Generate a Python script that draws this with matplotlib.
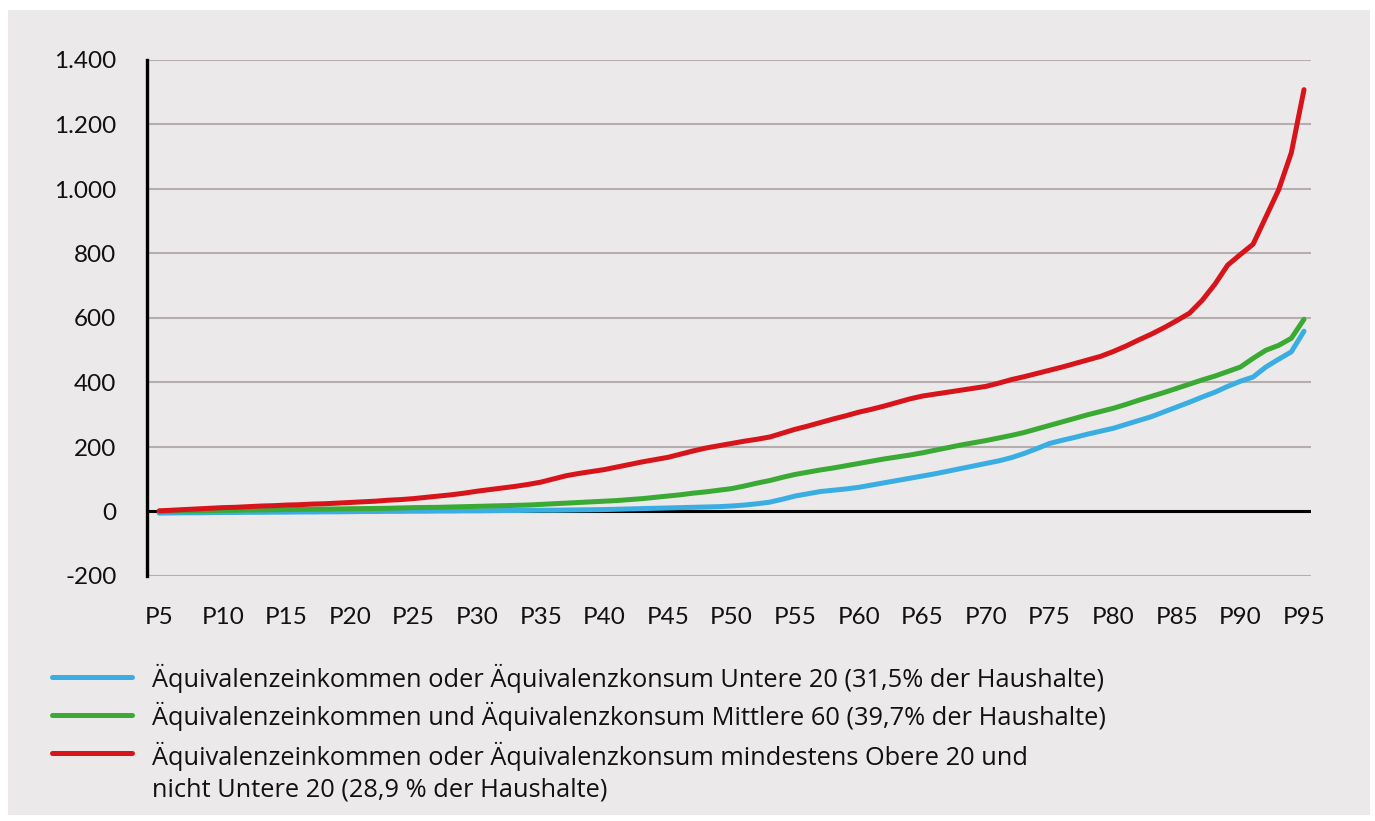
import matplotlib.pyplot as plt
from matplotlib.patches import Rectangle
from matplotlib.lines import Line2D

# Perzentile P5 .. P95
perzentile = list(range(5, 96))

# Untere 20 (blau)
untere = [-5, -4.5, -4, -4, -3.5, -3,
          -3, -2.5, -2.5, -2, -2,
          -1.5, -1.5, -1, -1, -0.5,
          0, 0, 0.5, 0.5, 1,
          1, 1.5, 1.5, 2, 2,
          2.5, 3, 3, 3.5, 4,
          4, 4.5, 5, 5.5, 6,
          7, 8, 9, 10, 11,
          12, 13, 14, 15, 17,
          20, 24, 29, 38, 48,
          55, 62, 66, 70, 75,
          82, 89, 96, 103, 110,
          117, 125, 133, 141, 149,
          157, 167, 180, 195, 211,
          221, 230, 240, 249, 258,
          270, 282, 294, 309, 324,
          339, 355, 370, 388, 404,
          417, 448, 472, 495, 559]

# Mittlere 60 (gruen)
mittlere = [1, 1.5, 2, 2.5, 3, 3.5,
            4, 4.5, 5, 5.5, 6,
            6.5, 7, 7.5, 8, 8.5,
            9, 9.5, 10, 11, 12,
            12.5, 13, 14, 15, 16,
            17, 18, 19, 20, 22,
            24, 26, 28, 30, 32,
            34, 37, 40, 44, 48,
            52, 57, 61, 66, 71,
            79, 88, 96, 106, 115,
            122, 129, 135, 142, 149,
            156, 163, 169, 175, 182,
            190, 198, 206, 213, 220,
            228, 236, 245, 256, 267,
            278, 289, 300, 310, 320,
            332, 345, 357, 369, 382,
            395, 408, 420, 434, 448,
            475, 500, 515, 537, 596]

# Obere 20 (rot)
obere = [2, 4, 6, 8, 10, 12,
         13, 15, 17, 18, 20,
         21, 23, 24, 26, 28,
         30, 32, 35, 37, 40,
         44, 48, 52, 57, 63,
         68, 73, 78, 84, 91,
         101, 111, 118, 124, 130,
         138, 146, 154, 161, 168,
         178, 188, 197, 204, 211,
         218, 224, 231, 243, 255,
         265, 276, 287, 297, 308,
         317, 327, 338, 349, 358,
         364, 370, 376, 382, 388,
         398, 409, 418, 428, 438,
         448, 459, 470, 481, 496,
         513, 532, 550, 570, 592,
         615, 655, 705, 764, 797,
         829, 913, 997, 1112, 1308]

labels = ['Äquivalenzeinkommen oder Äquivalenzkonsum Untere 20 (31,5% der Haushalte)',
          'Äquivalenzeinkommen und Äquivalenzkonsum Mittlere 60 (39,7% der Haushalte)',
          'Äquivalenzeinkommen oder Äquivalenzkonsum mindestens Obere 20 und\nnicht Untere 20 (28,9 % der Haushalte)']
farben = ['#3aaee2', '#3aaa35', '#d7141a']

yticks = [-200, 0, 200, 400, 600, 800, 1000, 1200, 1400]
ytick_labels = ['-200', '0', '200', '400', '600', '800', '1.000', '1.200', '1.400']
xticks = list(range(5, 96, 5))

plt.rcParams['font.family'] = ['Lato', 'DejaVu Sans']
bg = '#ebe9ea'

fig = plt.figure(figsize=(13.75, 8.21), dpi=100, facecolor='white')
fig.patches.append(Rectangle((8 / 1375, 1 - 815 / 821), 1362 / 1375, 805 / 821,
                             transform=fig.transFigure, facecolor=bg, edgecolor='none', zorder=-10))

ax = fig.add_axes([147 / 1375, 1 - 576 / 821, 1164 / 1375, 516 / 821])
ax.set_facecolor(bg)

for werte, farbe in zip([untere, mittlere, obere], farben):
    ax.plot(perzentile, werte, color=farbe, lw=3.6, solid_capstyle='round', zorder=3)

ax.set_ylim(-200, 1400)
ax.set_xlim(4.04, 95.55)
ax.set_yticks(yticks)
ax.set_yticklabels(ytick_labels)
ax.set_xticks(xticks)
ax.set_xticklabels(['P%d' % p for p in xticks])
ax.tick_params(length=0, labelsize=17.5, colors='#111111')
ax.tick_params(axis='y', pad=22)
ax.tick_params(axis='x', pad=22)

ax.grid(axis='y', color='#b5adae', lw=1.5)
ax.set_axisbelow(True)
ax.axhline(0, color='black', lw=2.2, zorder=2)
for s in ['top', 'right', 'bottom']:
    ax.spines[s].set_visible(False)
ax.spines['left'].set_color('black')
ax.spines['left'].set_linewidth(2.4)

# Legende von Hand unter dem Diagramm (Grundlinie der letzten Zeile)
linien_y = [677, 715, 753]
basis_y = [687, 725, 796]
for lab, farbe, ly, by in zip(labels, farben, linien_y, basis_y):
    fy = 1 - ly / 821
    fig.add_artist(Line2D([52 / 1375, 132 / 1375], [fy, fy], color=farbe, lw=3.6,
                          solid_capstyle='round', transform=fig.transFigure))
    fig.text(152 / 1375, 1 - by / 821, lab, fontsize=18.3, va='baseline', ha='left',
             color='#111111', linespacing=1.3, family=['Open Sans', 'DejaVu Sans'])

fig.savefig('out.png', dpi=100, facecolor='white')
